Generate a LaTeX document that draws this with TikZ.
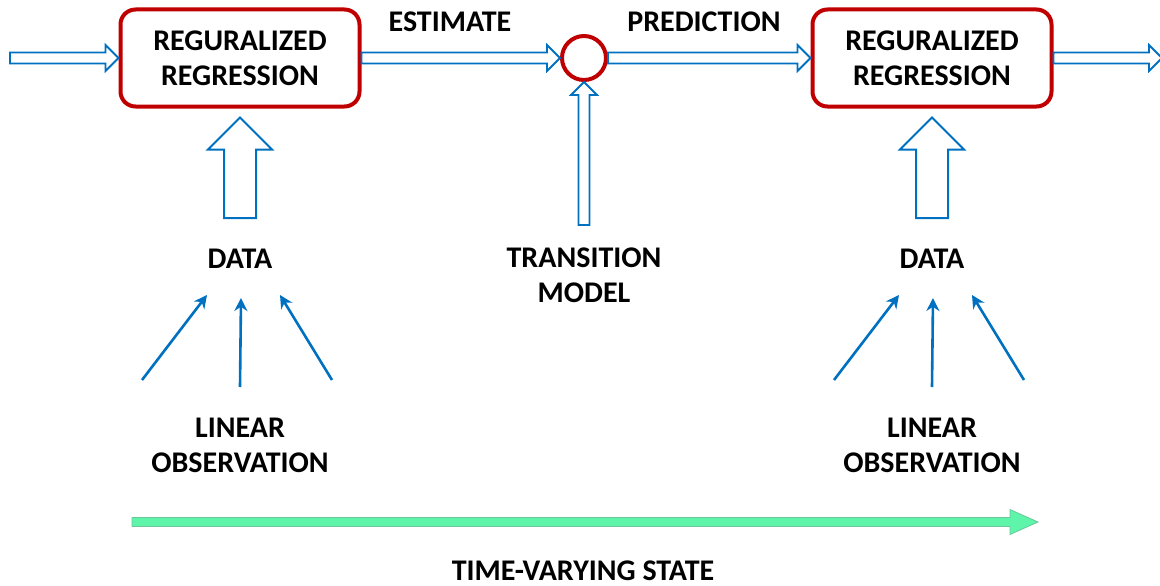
\documentclass[tikz,border=0pt]{standalone}
\usepackage{fontspec}
\setmainfont{Carlito}
\usetikzlibrary{calc,arrows.meta,positioning}
\definecolor{regred}{RGB}{192,0,0}
\definecolor{flowblue}{RGB}{0,112,192}
\definecolor{stategreen}{RGB}{94,245,170}
\tikzset{
  % outlined block arrow between two points
  hollow/.style n args={3}{to path={
    let \p1=(\tikztostart), \p2=(\tikztotarget), \p3=($(\p2)!#3!(\p1)$) in
      ($(\p1)!#1!90:(\p2)$) -- ($(\p3)!#1!-90:(\p1)$) -- ($(\p3)!#2!-90:(\p1)$)
      -- (\p2) -- ($(\p3)!#2!90:(\p1)$) -- ($(\p3)!#1!90:(\p1)$)
      -- ($(\p1)!#1!-90:(\p2)$) -- cycle}},
  flow/.style={hollow={5.5pt}{13pt}{13pt}, draw=flowblue, fill=white, line width=1.8pt},
  bigflow/.style={hollow={16pt}{32pt}{32pt}, draw=flowblue, fill=white, line width=2pt},
  regbox/.style={draw=regred, line width=4pt, rounded corners=15pt, align=center,
    minimum width=239pt, minimum height=97pt, inner sep=0pt},
  lbl/.style={align=center}
}
\begin{document}
\begin{tikzpicture}[x=1pt, y=-1pt, >=stealth,
    every node/.style={font=\bfseries\fontsize{30}{35}\selectfont}]
    \useasboundingbox (0,0) rectangle (1160,586);
    % Blocks
    \foreach \i/\x in {1/240, 2/932} {
        \node[regbox] (reg\i) at (\x,58) {REGURALIZED\\REGRESSION};
        \node[lbl] (data\i) at (\x,259) {DATA};
        \node[lbl] (obs\i) at (\x,445) {LINEAR\\OBSERVATION};
        % Data in
        \draw[bigflow] ($(data\i)+(0,-41)$) to ($(reg\i.south)+(0,9)$);
        % Observations
        \foreach \a/\b/\c/\d in {-98/-65/-33/36, 0/-58/1/39, 92/-65/40/36} {
            \draw[flowblue, line width=2.6pt, -{Stealth[length=13pt, width=13pt]}]
                ($(obs\i)+(\a,\b)$) -- ($(data\i)+(\c,\d)$);
        }
    }
    % Sum point
    \node[draw=regred, line width=4pt, circle, minimum size=44pt, inner sep=0pt] (sum) at (584,58) {};
    \node[lbl] (trans) at (584,275) {TRANSITION\\MODEL};
    \node[lbl] (est) at (450,22) {ESTIMATE};
    \node[lbl] (pred) at (704,22) {PREDICTION};
    % Flow along the top
    \coordinate (in) at (10,58);
    \coordinate (out) at (1162,58);
    \draw[flow] (in) to (reg1.west);
    \draw[flow] (reg1.east) to (sum.west);
    \draw[flow] (sum.east) to (reg2.west);
    \draw[flow] (reg2.east) to (out);
    \draw[flow] ($(trans)+(0,-50)$) to (sum.south);
    % Time axis
    \node[lbl] (state) at (583,571) {TIME-VARYING STATE};
    \coordinate (t0) at (132,522);
    \coordinate (t1) at (1038,522);
    \draw[hollow={4.5pt}{12.5pt}{28pt}, fill=stategreen, draw=stategreen!60!gray, line width=0.8pt] (t0) to (t1);
\end{tikzpicture}
\end{document}
